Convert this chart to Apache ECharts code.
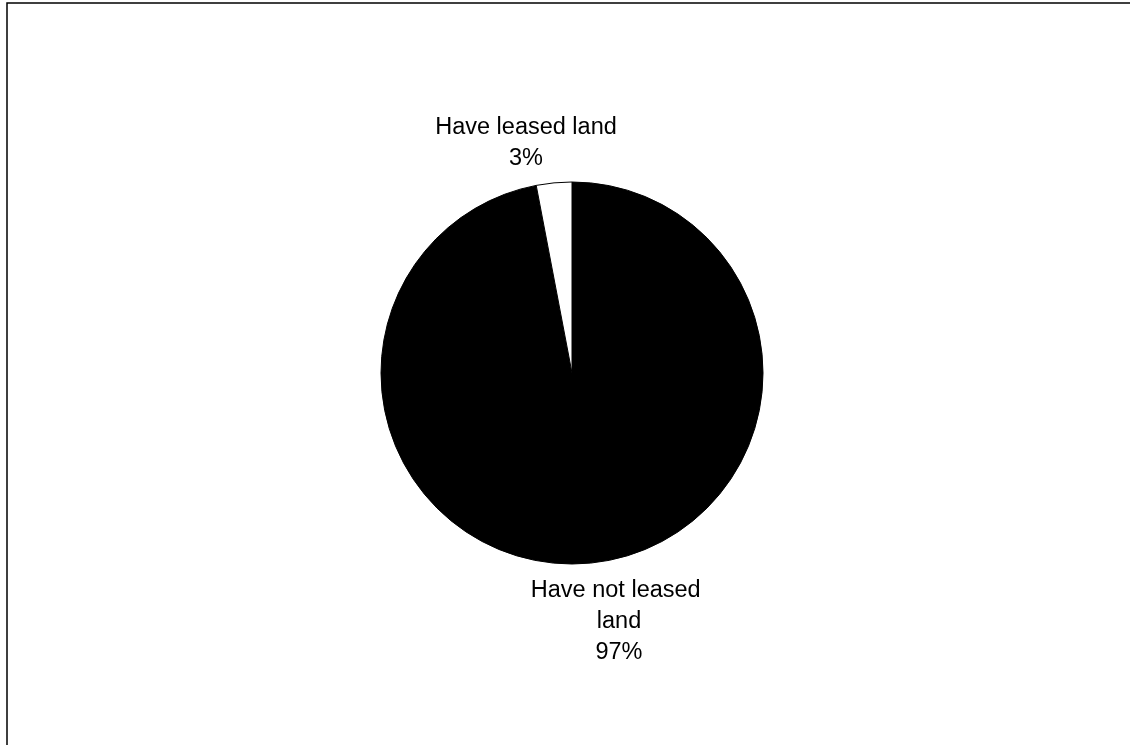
<!DOCTYPE html>
<html>
<head>
<meta charset="utf-8">
<script src="https://cdn.jsdelivr.net/npm/echarts@6/dist/echarts.min.js"></script>
<style>
html,body{margin:0;padding:0;background:#fff;}
#chart{width:1130px;height:745px;}
</style>
</head>
<body>
<div id="chart"></div>
<script>
var categories = ['Have not leased land', 'Have leased land'];
var values = [97, 3];
var sliceColors = ['#000000', '#ffffff'];

// label anchor placement (layout only)
var labelAnchors = [
  {x: 619, y: 622},
  {x: 526, y: 143}
];

var chart = echarts.init(document.getElementById('chart'), null, {renderer: 'canvas'});
var option = {
  backgroundColor: '#ffffff',
  animation: false,
  graphic: [{
    type: 'polyline',
    shape: {points: [[7, 800], [7, 3], [1300, 3]]},
    style: {fill: 'none', stroke: '#000', lineWidth: 1.5},
    silent: true
  }],
  series: [{
    type: 'pie',
    center: [572, 373],
    radius: 191,
    startAngle: 90,
    clockwise: true,
    avoidLabelOverlap: false,
    data: categories.map(function (c, i) {
      return {name: c, value: values[i], itemStyle: {color: sliceColors[i]}};
    }),
    itemStyle: {borderColor: '#000', borderWidth: 1},
    label: {
      show: true,
      position: 'outside',
      formatter: '{b}\n{d}%',
      fontFamily: 'Liberation Sans, Arial, sans-serif',
      fontSize: 23.5,
      lineHeight: 31,
      color: '#000',
      width: 195,
      overflow: 'break',
      align: 'center'
    },
    labelLine: {show: false, length: 8, length2: 0},
    labelLayout: function (params) {
      var a = labelAnchors[params.dataIndex];
      return {x: a.x, y: a.y, align: 'center', verticalAlign: 'middle', hideOverlap: false};
    },
    emphasis: {disabled: true}
  }]
};
chart.setOption(option);
</script>
</body>
</html>
